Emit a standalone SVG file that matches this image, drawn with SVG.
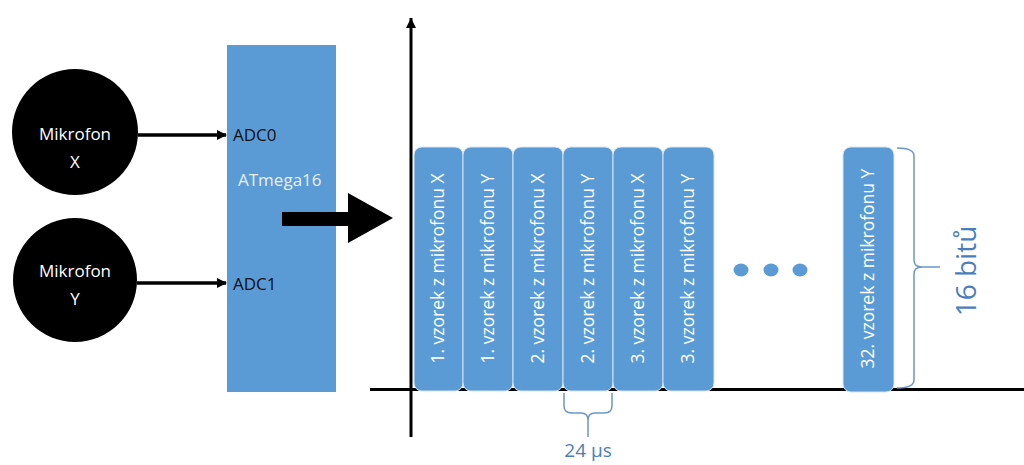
<svg xmlns="http://www.w3.org/2000/svg" width="1024" height="465" viewBox="0 0 1024 465">
<style>
.mic{fill:#000}
.mt{font-family:"Open Sans","Liberation Sans",sans-serif;font-size:17px;fill:#fff;text-anchor:middle}
.adc{font-family:"Open Sans","Liberation Sans",sans-serif;font-size:17px;fill:#111}
.bar{fill:#5B9BD5;stroke:#d6e3f0;stroke-width:1}
.bt{font-family:"Open Sans","Liberation Sans",sans-serif;font-size:17.5px;fill:#fff;text-anchor:middle}
.lbl{font-family:"Open Sans","Liberation Sans",sans-serif;fill:#4A7EBB;text-anchor:middle}
.brace{fill:none;stroke:#6A96C8;stroke-width:1.5}
</style>
<defs>
<marker id="ah" markerWidth="10" markerHeight="10" refX="9" refY="5" orient="auto" markerUnits="userSpaceOnUse">
<path d="M0,0 L10,5 L0,10 z" fill="#000"/>
</marker>
<marker id="ax" markerWidth="10" markerHeight="12" refX="5" refY="0" orient="0" markerUnits="userSpaceOnUse">
<path d="M0,10 L5,0 L10,10 z" fill="#000"/>
</marker>
</defs>
<g id="mikrofonX"><circle class="mic" cx="75" cy="132" r="63"/><text class="mt" x="75" y="140">Mikrofon</text><text class="mt" x="75" y="168">X</text></g>
<g id="mikrofonY"><circle class="mic" cx="75" cy="280" r="62"/><text class="mt" x="75" y="277">Mikrofon</text><text class="mt" x="75" y="305">Y</text></g>
<g id="atmega"><rect x="227" y="45" width="109" height="347" fill="#5B9BD5"/>
<text class="adc" x="233" y="141">ADC0</text>
<text class="adc" x="233" y="290">ADC1</text>
<text class="adc" x="238" y="186" style="fill:#e8eef7">ATmega16</text></g>
<g id="connectors">
<line x1="138" y1="135" x2="226" y2="135" stroke="#000" stroke-width="3.5" marker-end="url(#ah)"/>
<line x1="137" y1="283" x2="226" y2="283" stroke="#000" stroke-width="3.5" marker-end="url(#ah)"/>
<path d="M282,212 L348,212 L348,193 L393,218 L348,243 L348,226 L282,226 z" fill="#000"/>
</g>
<g id="axes">
<line x1="411" y1="437" x2="411" y2="18" stroke="#000" stroke-width="3" marker-end="url(#ax)"/>
<line x1="370" y1="389.5" x2="1024" y2="389.5" stroke="#000" stroke-width="3"/>
</g>
<g id="bars">
<g id="b1"><rect class="bar" x="414" y="147" width="49" height="244" rx="8"/><text class="bt" transform="translate(444,268.5) rotate(-90)">1. vzorek z mikrofonu X</text></g>
<g id="b2"><rect class="bar" x="463" y="147" width="50" height="244" rx="8"/><text class="bt" transform="translate(494,268.5) rotate(-90)">1. vzorek z mikrofonu Y</text></g>
<g id="b3"><rect class="bar" x="513" y="147" width="50" height="244" rx="8"/><text class="bt" transform="translate(544,268.5) rotate(-90)">2. vzorek z mikrofonu X</text></g>
<g id="b4"><rect class="bar" x="563" y="147" width="50" height="244" rx="8"/><text class="bt" transform="translate(594,268.5) rotate(-90)">2. vzorek z mikrofonu Y</text></g>
<g id="b5"><rect class="bar" x="613" y="147" width="50" height="244" rx="8"/><text class="bt" transform="translate(644,268.5) rotate(-90)">3. vzorek z mikrofonu X</text></g>
<g id="b6"><rect class="bar" x="663" y="147" width="51" height="244" rx="8"/><text class="bt" transform="translate(694,268.5) rotate(-90)">3. vzorek z mikrofonu Y</text></g>
<g id="b32"><rect class="bar" x="843" y="147" width="51" height="245" rx="8"/><text class="bt" transform="translate(874,268.5) rotate(-90)">32. vzorek z mikrofonu Y</text></g>
</g>
<g id="dots" fill="#5B9BD5"><ellipse cx="741" cy="270" rx="7.5" ry="6.5"/><ellipse cx="771" cy="270" rx="7.5" ry="6.5"/><ellipse cx="800" cy="270" rx="7.5" ry="6.5"/></g>
<g id="brace16">
<path class="brace" d="M897,148 Q914,148 914,156 L914,260 Q914,267 922,267 L940,267 M922,267 Q914,267 914,274 L914,380 Q914,388 897,388"/>
<text class="lbl" style="font-size:28px" transform="translate(976,271) rotate(-90)">16 bitů</text>
</g>
<g id="brace24">
<path class="brace" d="M564,393 L564,406 Q564,413 572,413 L581,413 Q588,413 588,420 L588,437 M588,420 Q588,413 595,413 L604,413 Q612,413 612,406 L612,393"/>
<text class="lbl" style="font-size:19px" x="588" y="457">24 µs</text>
</g>
</svg>
